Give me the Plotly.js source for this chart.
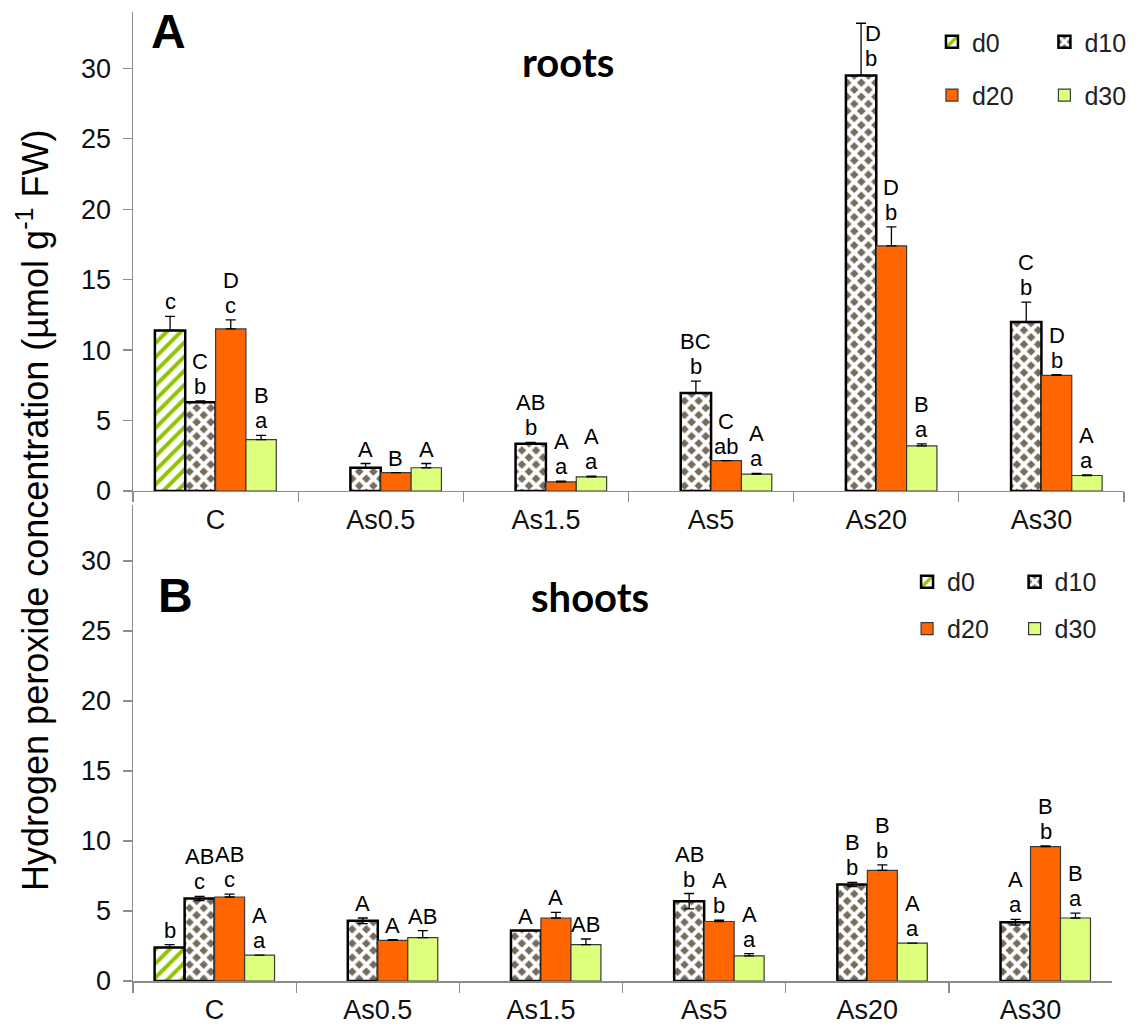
<!DOCTYPE html>
<html><head><meta charset="utf-8">
<script src="https://cdn.plot.ly/plotly-3.0.1.min.js"></script>
<style>html,body{margin:0;padding:0;background:#fff}#chart{width:1143px;height:1032px}</style>
</head><body><div id="chart"></div>
<script>
const categories = ['C', 'As0.5', 'As1.5', 'As5', 'As20', 'As30'];
const seriesNames = ['d0', 'd10', 'd20', 'd30'];

// Panel A: roots
const rootsD0 = [11.4, null, null, null, null, null];
const rootsD10 = [6.3, 1.65, 3.35, 6.95, 29.5, 12.0];
const rootsD20 = [11.5, 1.3, 0.65, 2.15, 17.4, 8.2];
const rootsD30 = [3.65, 1.65, 1.0, 1.2, 3.2, 1.1];
const rootsErrD0 = [1.0, 0, 0, 0, 0, 0];
const rootsErrD10 = [0.1, 0.3, 0.1, 0.85, 3.7, 1.4];
const rootsErrD20 = [0.65, 0, 0.05, 0, 1.35, 0.05];
const rootsErrD30 = [0.3, 0.3, 0.05, 0.05, 0.15, 0.05];
const rootsLetD0 = ['c', '', '', '', '', ''];
const rootsLetD10 = ['C<br>b', 'A', 'AB<br>b', 'BC<br>b', 'D<br>b', 'C<br>b'];
const rootsLetD20 = ['D<br>c', 'B', 'A<br>a', 'C<br>ab', 'D<br>b', 'D<br>b'];
const rootsLetD30 = ['B<br>a', 'A', 'A<br>a', 'A<br>a', 'B<br>a', 'A<br>a'];

// Panel B: shoots
const shootsD0 = [2.4, null, null, null, null, null];
const shootsD10 = [5.9, 4.3, 3.6, 5.7, 6.9, 4.2];
const shootsD20 = [6.0, 2.9, 4.5, 4.25, 7.9, 9.6];
const shootsD30 = [1.85, 3.1, 2.6, 1.8, 2.7, 4.5];
const shootsErrD0 = [0.2, 0, 0, 0, 0, 0];
const shootsErrD10 = [0.15, 0.2, 0, 0.55, 0.15, 0.2];
const shootsErrD20 = [0.2, 0.05, 0.4, 0.1, 0.4, 0.05];
const shootsErrD30 = [0, 0.5, 0.4, 0.15, 0, 0.35];
const shootsLetD0 = ['b', '', '', '', '', ''];
const shootsLetD10 = ['AB<br>c', 'A', 'A', 'AB<br>b', 'B<br>b', 'A<br>a'];
const shootsLetD20 = ['AB<br>c', 'A', 'A', 'A<br>b', 'B<br>b', 'B<br>b'];
const shootsLetD30 = ['A<br>a', 'AB', 'AB', 'A<br>a', 'A<br>a', 'B<br>a'];

const FONT = 'Arial, "Liberation Sans", sans-serif';
const BARGAP = 0.265;
const LETTER_PITCH = 25;

const styles = [
  {pattern: {shape: '/', fgcolor: '#8fc400', bgcolor: '#ffffff', size: 10, solidity: 0.4, fillmode: 'replace'},
   color: '#8fc400', line: {color: '#000', width: 2.5}},
  {pattern: {shape: 'x', fgcolor: '#ffffff', bgcolor: '#776b5e', size: 10, solidity: 0.62, fillmode: 'replace'},
   color: '#776b5e', line: {color: '#000', width: 2.5}},
  {pattern: null, color: '#ff6600', line: {color: '#3a3a3a', width: 1.2}},
  {pattern: null, color: '#dcff7c', line: {color: '#3a3a3a', width: 1.2}}
];

const panels = [
  {xa: 'x', ya: 'y', vals: [rootsD0, rootsD10, rootsD20, rootsD30],
   errs: [rootsErrD0, rootsErrD10, rootsErrD20, rootsErrD30],
   lets: [rootsLetD0, rootsLetD10, rootsLetD20, rootsLetD30],
   sym: [false, false, false, false],
   legends: ['legend', 'legend2', 'legend3', 'legend4']},
  {xa: 'x2', ya: 'y2', vals: [shootsD0, shootsD10, shootsD20, shootsD30],
   errs: [shootsErrD0, shootsErrD10, shootsErrD20, shootsErrD30],
   lets: [shootsLetD0, shootsLetD10, shootsLetD20, shootsLetD30],
   sym: [false, true, false, false],
   legends: ['legend5', 'legend6', 'legend7', 'legend8']}
];

const traces = [];
const annotations = [];
const slotW = (1 - BARGAP) / 4;
const letterFont = {family: FONT, size: 22, color: '#000'};

panels.forEach((p, pi) => {
  p.vals.forEach((vals, si) => {
    const st = styles[si];
    const sym = p.sym[si];
    const marker = {color: st.color, line: st.line};
    if (st.pattern) marker.pattern = st.pattern;
    traces.push({
      type: 'bar', name: seriesNames[si], x: categories, y: vals,
      xaxis: p.xa, yaxis: p.ya, legend: p.legends[si],
      marker: marker,
      error_y: {type: 'data', array: p.errs[si], symmetric: sym,
                arrayminus: sym ? undefined : p.errs[si].map(() => 0),
                color: '#000', thickness: 1.3, width: 5},
      hoverinfo: 'x+y+name'
    });
    vals.forEach((v, ci) => {
      const t = p.lets[si][ci];
      if (v === null || !t) return;
      const top = v + (p.errs[si][ci] || 0);
      const xpos = ci + (si - 1.5) * slotW;
      const special = (pi === 0 && si === 1 && ci === 4);
      const lines = t.split('<br>');
      lines.forEach((ln, li) => {
        const fromBottom = lines.length - 1 - li;
        annotations.push({
          xref: p.xa, yref: p.ya, x: xpos, y: top,
          text: ln, showarrow: false,
          xanchor: special ? 'left' : 'center',
          yanchor: special ? 'top' : 'bottom',
          xshift: special ? 2 : 0,
          yshift: special ? 4 - li * LETTER_PITCH : fromBottom * LETTER_PITCH,
          font: letterFont
        });
      });
    });
  });
});

// panel labels and titles
annotations.push(
  {xref: 'paper', yref: 'paper', x: 0.036, y: 0.980, xanchor: 'center', yanchor: 'middle',
   text: '<b>A</b>', showarrow: false, font: {family: FONT, size: 48, color: '#000'}},
  {xref: 'paper', yref: 'paper', x: 0.043, y: 0.398, xanchor: 'center', yanchor: 'middle',
   text: '<b>B</b>', showarrow: false, font: {family: FONT, size: 48, color: '#000'}},
  {xref: 'paper', yref: 'paper', x: 0.439, y: 0.948, xanchor: 'center', yanchor: 'middle',
   text: '<b>roots</b>', showarrow: false, font: {family: 'Lato, "Open Sans", sans-serif', size: 40, color: '#000'}},
  {xref: 'paper', yref: 'paper', x: 0.461, y: 0.396, xanchor: 'center', yanchor: 'middle',
   text: '<b>shoots</b>', showarrow: false, font: {family: 'Lato, "Open Sans", sans-serif', size: 40, color: '#000'}},
  {xref: 'paper', yref: 'paper', x: -0.101, y: 0.486, xanchor: 'center', yanchor: 'middle', textangle: -90,
   text: 'Hydrogen peroxide concentration (µmol g<sup>-1</sup> FW)', showarrow: false,
   font: {family: FONT, size: 36, color: '#000'}}
);

const yax = (dom) => ({
  domain: dom, range: [0, 34], dtick: 5, tick0: 0,
  showgrid: false, zeroline: false, showline: true, linecolor: '#8c8c8c', linewidth: 1.5,
  ticks: 'outside', ticklen: 9, tickcolor: '#8c8c8c', tickwidth: 1.3, ticklabelstandoff: 6,
  tickfont: {family: FONT, size: 27, color: '#111'}
});
const xax = (dom, anchor) => ({
  domain: dom, anchor: anchor, type: 'category', tickson: 'boundaries',
  showgrid: false, zeroline: false, showline: true, linecolor: '#8c8c8c', linewidth: 1.5,
  ticks: 'outside', ticklen: 10, tickcolor: '#8c8c8c', tickwidth: 1.3, ticklabelstandoff: 4,
  tickfont: {family: FONT, size: 27, color: '#111'}
});

const legendAt = (x, y) => ({
  x: x, y: y, xref: 'paper', yref: 'paper', xanchor: 'left', yanchor: 'middle',
  orientation: 'h', bgcolor: 'rgba(0,0,0,0)', borderwidth: 0, itemwidth: 30,
  font: {family: FONT, size: 25, color: '#222'}
});

const layout = {
  width: 1143, height: 1032,
  margin: {l: 133, r: 14, t: 12, b: 51},
  paper_bgcolor: '#fff', plot_bgcolor: '#fff',
  barmode: 'group', bargap: BARGAP, bargroupgap: 0,
  showlegend: true,
  xaxis: xax([0, 1], 'y'),
  yaxis: yax([0.5057, 1]),
  xaxis2: xax([0, 0.988], 'y2'),
  yaxis2: yax([0, 0.4912]),
  legend: legendAt(0.8062, 0.969),
  legend2: legendAt(0.9197, 0.969),
  legend3: legendAt(0.8062, 0.914),
  legend4: legendAt(0.9197, 0.914),
  legend5: legendAt(0.7811, 0.4118),
  legend6: legendAt(0.8896, 0.4118),
  legend7: legendAt(0.7811, 0.3633),
  legend8: legendAt(0.8896, 0.3633),
  annotations: annotations
};

Plotly.newPlot('chart', traces, layout, {displayModeBar: false, staticPlot: true});
</script>
</body></html>
